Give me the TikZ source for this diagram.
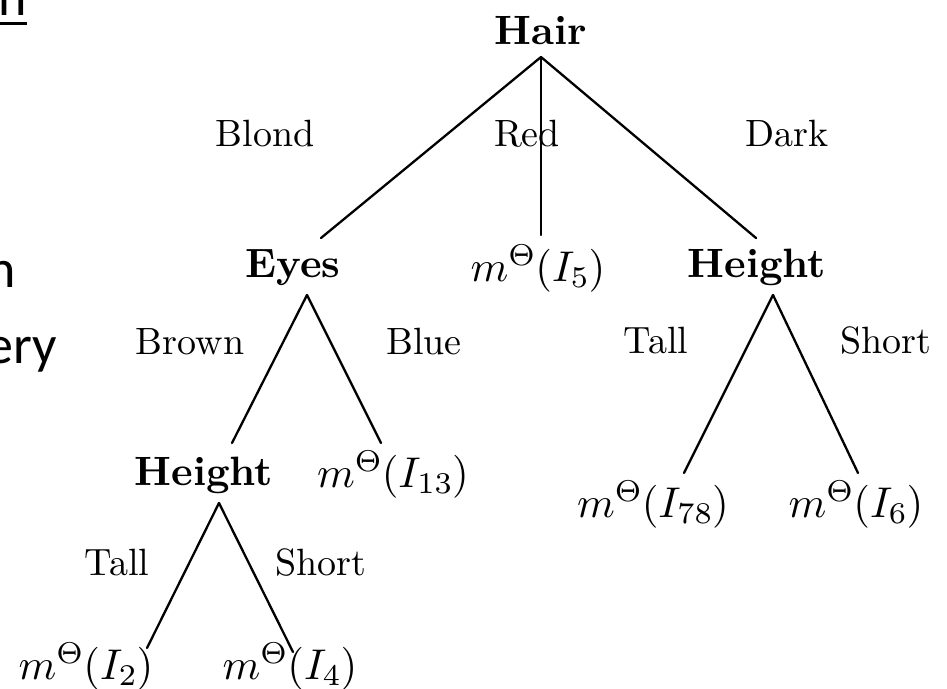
\RequirePackage{fix-cm}
\documentclass[tikz,border=0pt]{standalone}
\usepackage{fontspec}
\setmainfont{lmroman10-regular.otf}[BoldFont=lmroman10-bold.otf]
\newfontfamily\slidefont{Carlito}
\DeclareFontShape{OT1}{cmr}{m}{n}{<-35> cmr7 <35-> cmr10}{}
\DeclareFontShape{OML}{cmm}{m}{it}{<-35> cmmi7 <35-> cmmi10}{\skewchar\font=127}
\tikzset{
  bnode/.style={inner sep=0pt, anchor=base, font=\fontsize{41}{48}\selectfont\bfseries},
  lab/.style={inner sep=0pt, anchor=base, font=\fontsize{38}{44}\selectfont},
  mnode/.style={inner sep=0pt, anchor=base, font=\fontsize{43}{48}\selectfont},
  slide/.style={inner sep=0pt, font=\fontsize{54}{60}\selectfont\slidefont},
  edge/.style={line width=2.3pt, line cap=round}
}
\begin{document}
\begin{tikzpicture}[x=1pt,y=-1pt]
\useasboundingbox (0,0) rectangle (947,688);
\clip (0,0) rectangle (947,688);
% cut-off slide text at the left edge
\node[slide, anchor=base west] (s1) at (-2,15) {n};
\draw[line width=3pt] (0,23.5) coordinate (u1) -- (27,23.5) coordinate (u2);
\node[slide, anchor=base east] (s2) at (16,287) {n};
\node[slide, anchor=base east] (s3) at (57,363) {ery};
% tree nodes
\node[bnode] (hair) at (541,44) {Hair};
\node[bnode] (eyes) at (293,277) {Eyes};
\node[mnode] (m5) at (538,281) {$m^{\Theta}(I_5)$};
\node[bnode] (heightR) at (757,277) {Height};
\node[bnode] (heightL) at (204,485) {Height};
\node[mnode] (m13) at (393,487) {$m^{\Theta}(I_{13})$};
\node[mnode] (m78) at (653,517) {$m^{\Theta}(I_{78})$};
\node[mnode] (m6) at (856,517) {$m^{\Theta}(I_6)$};
\node[mnode] (m2) at (86,679) {$m^{\Theta}(I_2)$};
\node[mnode] (m4) at (290,679) {$m^{\Theta}(I_4)$};
% edge labels
\node[lab] (lblond) at (265,146) {Blond};
\node[lab] (lred) at (527,146) {Red};
\node[lab] (ldark) at (787,146) {Dark};
\node[lab] (lbrown) at (190,354) {Brown};
\node[lab] (lblue) at (424,354) {Blue};
\node[lab] (ltallR) at (656,353) {Tall};
\node[lab] (lshortR) at (886,353) {Short};
\node[lab] (ltallL) at (117,575) {Tall};
\node[lab] (lshortL) at (321,575) {Short};
% attachment points
\coordinate (hairA) at (541,57);
\coordinate (eyesT) at (321,238);
\coordinate (m5T) at (541,235);
\coordinate (heightRT) at (756,238);
\coordinate (eyesA) at (307,295);
\coordinate (heightLT) at (232,443);
\coordinate (m13T) at (381,443);
\coordinate (heightRA) at (773,295);
\coordinate (m78T) at (684,473);
\coordinate (m6T) at (858,473);
\coordinate (heightLA) at (219,503);
\coordinate (m2T) at (147,648);
\coordinate (m4T) at (293,652);
% connectors
\draw[edge] (hairA) -- (eyesT);
\draw[edge] (hairA) -- (m5T);
\draw[edge] (hairA) -- (heightRT);
\draw[edge] (eyesA) -- (heightLT);
\draw[edge] (eyesA) -- (m13T);
\draw[edge] (heightRA) -- (m78T);
\draw[edge] (heightRA) -- (m6T);
\draw[edge] (heightLA) -- (m2T);
\draw[edge] (heightLA) -- (m4T);
\end{tikzpicture}
\end{document}
